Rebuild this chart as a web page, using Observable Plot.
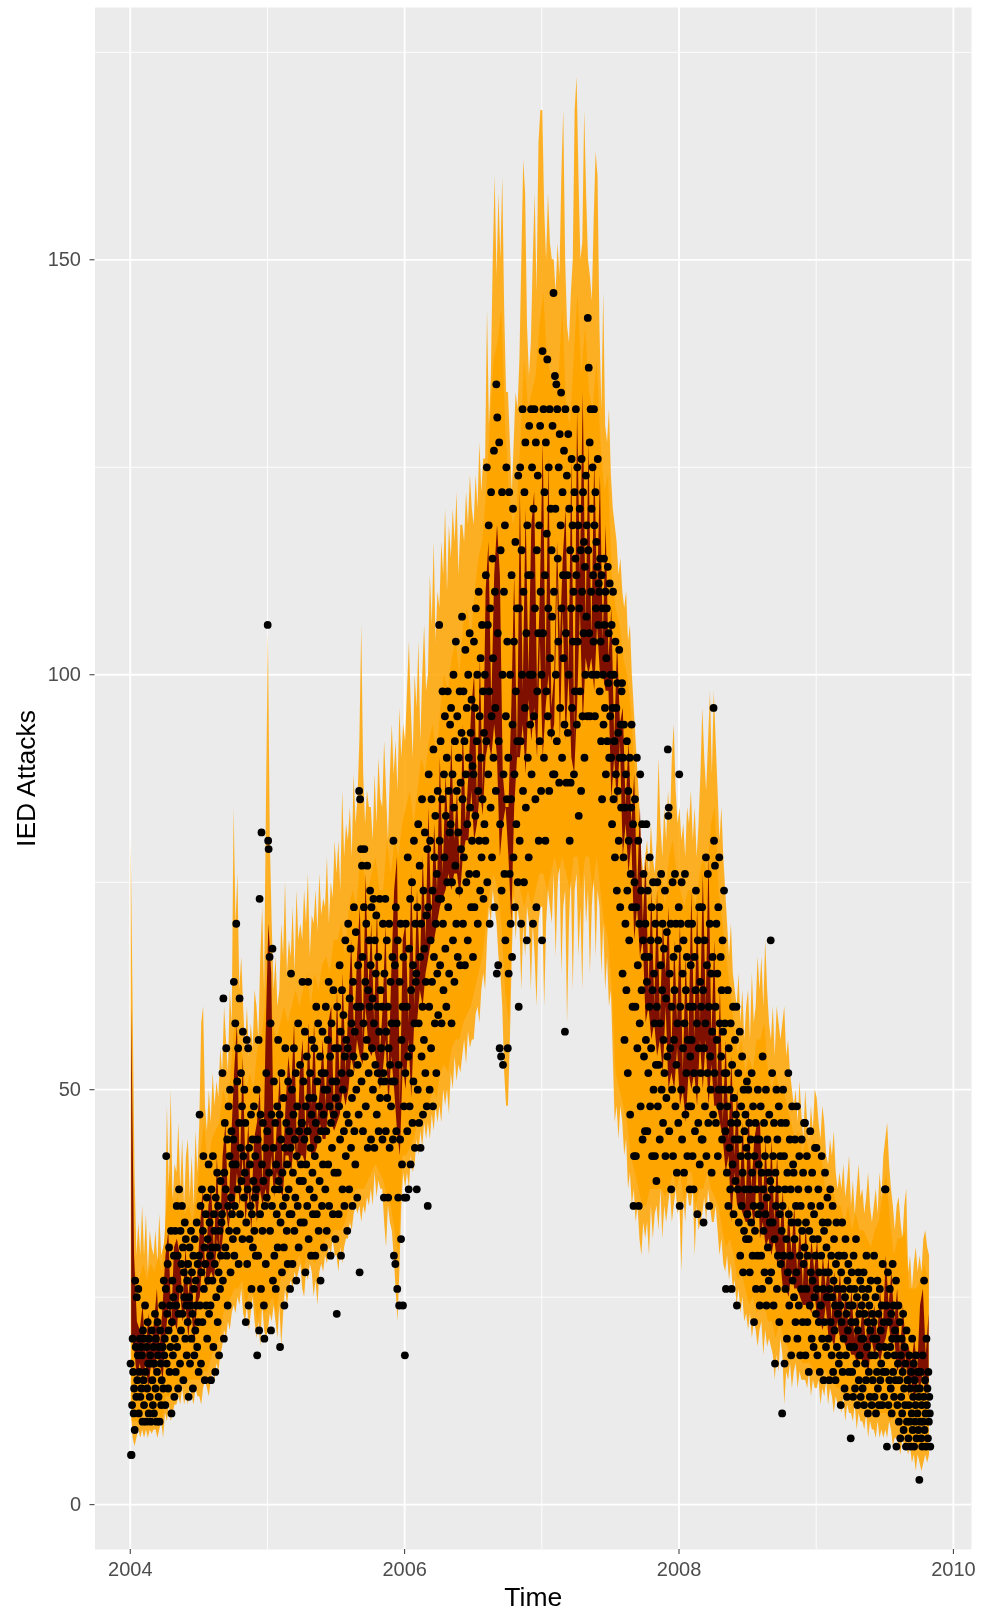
<!DOCTYPE html>
<html>
<head>
<meta charset="utf-8">
<script src="https://cdn.jsdelivr.net/npm/d3@7"></script>
<script src="https://cdn.jsdelivr.net/npm/@observablehq/plot@0.6"></script>
<style>html,body{margin:0;padding:0;background:#fff}svg{display:block;filter:blur(0.55px)}</style>
</head>
<body>
<div id="chart"></div>
<script>
const firstYear = 2004;
const xTicks = [2004, 2006, 2008, 2010];
const xMinor = [2005, 2007, 2009];
const yTicks = [0, 50, 100, 150];
const yMinor = [25, 75, 125, 175];

// Pale spike tips of the ribbon, six readings per month, Jan 2004 - Oct 2009
const outerHigh = [
[80,60,40,30,34,30],[36,30,35,28,33,31],[30,33,29,35,30,31],[32,48,38,50,36,41],[40,46,38,44,36,42],[44,37,42,36,45,40],[46,58,60,48,45,50],[46,52,48,51,49,55],[52,60,56,52,62,58],[84,70,76,62,66,60],[55,60,54,58,55,62],[60,56,66,72,62,85],
[105,80,70,62,66,60],[62,70,66,75,64,68],[66,72,64,74,68,70],[68,74,70,76,66,71],[70,74,69,76,71,73],[72,78,70,75,73,80],[76,80,74,86,78,82],[80,84,78,88,82,85],[92,106,88,82,86,84],[84,80,88,82,90,85],[84,92,86,80,88,94],[88,92,86,96,90,94],
[92,98,104,96,90,100],[96,104,92,100,106,98],[100,112,106,116,104,110],[108,116,112,120,110,118],[114,120,116,122,112,118],[118,116,122,118,124,120],[118,124,120,128,122,126],[126,144,130,136,150,160],[148,158,150,160,144,134],[134,128,122,128,134,132],[138,150,162,158,142,136],[140,150,158,146,164,168],
[168,156,150,158,152,150],[150,146,152,148,160,168],[150,142,140,146,150,168],[172,160,150,152,168,158],[150,148,145,155,163,160],[142,132,146,130,128,132],[124,120,118,116,112,114],[110,108,110,104,106,100],[96,92,88,84,78,76],[78,80,76,82,78,76],[80,90,82,78,84,80],[86,82,90,94,86,82],
[84,80,82,78,84,82],[86,80,84,78,82,88],[96,90,86,92,98,88],[98,92,86,80,84,78],[74,70,66,70,64,62],[60,64,58,62,56,60],[62,56,64,58,60,66],[62,66,60,68,62,58],[56,60,54,60,58,56],[58,60,54,56,52,50],[48,50,46,51,47,44],[50,46,44,48,45,50],
[49,46,44,48,46,42],[41,44,42,45,40,38],[40,38,41,37,39,42],[36,39,35,38,41,37],[38,35,37,40,36,34],[36,38,35,40,37,42],[44,46,41,38,36,33],[36,37,34,32,36,38],[28,30,26,29,31,28],[30,28,32,33,31,30]];

const outerLow = [
[12,8,7,8,9,8],[9,8,9,8,9,8.5],[9,9,8,9,10,8],[11,10,12,10,11,12],[12,13,12,14,12,13],[12,14,13,12,14,13],[13,12,14,15,14,13],[15,16,15,17,16,18],[19,21,20,22,21,23],[24,23,25,24,26,23],[22,24,21,23,25,22],[20,22,19,24,21,20],
[21,23,22,24,22,20],[24,19,23,26,24,26],[27,26,28,27,28,29],[26,25,28,27,29,28],[25,27,24,28,29,28],[30,29,31,30,32,30],[30,28,31,29,31,32],[32,34,33,35,36,35],[36,34,36,35,37,36],[38,36,40,37,39,38],[38,34,31,36,34,33],[30,26,22,28,36,40],
[38,40,38,42,40,41],[44,42,45,43,46,44],[46,44,47,45,48,46],[48,46,50,48,50,47],[52,50,54,51,53,52],[54,56,53,57,55,56],[56,59,60,58,62,64],[62,68,72,70,74,72],[70,66,64,60,52,48],[48,56,66,74,68,72],[70,62,70,66,72,70],[62,70,66,60,70,72],
[72,60,70,74,72,70],[76,66,74,78,64,72],[74,58,70,76,62,74],[76,66,72,62,76,70],[74,64,72,76,66,74],[72,64,70,62,66,60],[62,54,46,48,44,48],[46,42,44,38,40,36],[38,34,36,32,30,34],[32,34,30,36,32,35],[36,33,38,32,36,34],[36,38,34,36,38,35],
[36,28,37,34,38,36],[36,38,30,36,33,34],[35,37,34,38,36,34],[34,36,33,30,32,29],[28,30,27,29,26,27],[24,26,23,25,22,23],[21,23,20,22,21,19],[21,22,18,21,19,20],[19,18,15,18,16,20],[18,12,16,15,17,14],[16,17,14,16,15,15],[15,14,16,13,15,14],
[14,15,12,14,13,15],[12,14,13,11,13,12],[12,11,13,10,12,11],[11,10,12,9,11,10],[10,9,11,8,10,9],[9,8,10,8,9,8],[9,8,10,9,7,8],[8,7,6,8,7,7],[6,7,5,6,4,6],[5,4,5,6,5,6]];

// Solid body of the ribbon, three readings per month
const bodyHigh = [
[34,28,27],[29,27,29],[28,30,28],[35,40,36],[37,36,35],[36,34,37],[42,46,40],[44,45,46],[50,48,52],[58,56,54],[50,52,50],[55,56,60],
[70,58,56],[58,60,58],[60,62,60],[62,64,60],[64,62,65],[66,64,68],[68,70,66],[72,74,72],[78,76,74],[76,78,74],[74,80,76],[80,78,82],
[84,86,82],[86,90,88],[92,94,90],[96,100,98],[102,104,100],[106,108,104],[110,114,116],[122,130,138],[140,144,130],[122,118,120],[128,138,132],[134,136,142],
[146,138,136],[134,136,144],[132,130,138],[146,136,142],[134,132,138],[128,122,124],[112,108,106],[102,100,96],[88,82,74],[72,74,72],[74,76,72],[78,80,76],
[74,72,74],[74,72,76],[78,76,82],[84,74,70],[66,62,58],[54,56,52],[54,52,56],[56,58,52],[50,52,50],[50,48,46],[44,45,42],[44,42,44],
[42,42,38],[38,38,36],[36,34,36],[33,35,33],[33,32,31],[33,34,37],[40,34,30],[32,32,33],[26,26,26],[27,29,27]];

const bodyLow = [
[10,10,10],[11,11,11],[10,11,10],[13,13,14],[14,15,15],[15,15,15],[15,16,16],[18,19,20],[23,24,25],[26,26,27],[24,26,25],[22,24,23],
[24,25,23],[27,28,28],[29,29,30],[28,30,30],[29,30,31],[32,32,33],[33,33,34],[36,37,38],[38,38,39],[40,41,40],[39,37,36],[33,30,42],
[42,43,44],[46,47,48],[48,50,49],[52,53,52],[55,56,56],[58,59,60],[62,64,66],[70,74,76],[74,70,62],[58,72,76],[74,72,74],[72,74,76],
[76,74,76],[78,76,78],[76,74,78],[78,74,78],[78,74,78],[74,70,68],[62,52,50],[48,46,42],[40,38,36],[36,38,38],[38,38,37],[38,40,38],
[40,36,40],[40,36,38],[38,40,38],[37,36,33],[31,32,30],[27,28,26],[24,25,23],[24,24,22],[22,20,22],[20,19,18],[18,18,17],[17,17,16],
[16,16,16],[15,15,14],[14,14,13],[13,13,12],[12,12,11],[11,11,11],[11,10,11],[10,9,9],[8,8,7],[7,7,7]];

// Inner ribbon, four readings per month
const innerHigh = [
[60,30,22,21],[24,18,23,19],[22,26,19,24],[30,33,22,31],[32,30,24,31],[25,29,22,27],[33,38,26,36],[38,30,42,31],[42,46,34,44],[52,58,40,54],[40,46,35,44],[46,50,38,56],
[70,64,40,46],[52,40,48,54],[50,58,42,52],[56,44,58,48],[58,46,50,56],[48,58,60,46],[62,50,64,52],[60,68,56,66],[72,56,76,62],[70,58,72,54],[60,70,52,64],[74,78,48,68],
[70,58,76,60],[74,64,78,68],[84,70,82,74],[90,76,88,80],[92,80,86,76],[94,82,88,96],[100,84,102,86],[110,116,96,112],[118,112,88,84],[84,96,112,90],[122,98,120,100],[118,122,98,110],
[128,100,126,96],[100,116,104,114],[120,100,126,92],[132,112,134,106],[128,104,126,110],[124,104,118,102],[108,92,104,94],[96,84,92,82],[88,74,84,70],[78,62,74,60],[74,58,70,64],[72,54,68,58],
[70,52,66,56],[74,56,72,58],[76,60,78,56],[68,50,62,46],[56,44,54,42],[50,38,46,36],[48,38,44,46],[46,36,44,34],[44,34,42,32],[38,28,36,30],[36,28,34,26],[34,26,32,28],
[32,24,30,26],[30,22,28,24],[28,22,26,21],[26,20,25,20],[25,19,24,21],[24,20,26,21],[30,24,28,22],[26,18,24,19],[19,17,20,16],[24,26,18,23]];

const innerLow = [
[20,19,15,17],[15,17,14,17],[16,18,17,15],[20,24,21,22],[21,26,22,24],[20,24,19,24],[25,30,26,27],[28,27,32,29],[32,36,33,36],[35,40,36,42],[34,38,33,38],[34,38,36,38],
[36,42,37,40],[38,37,42,42],[40,44,41,42],[42,41,46,42],[42,43,46,44],[44,48,46,45],[46,47,50,48],[50,54,52,56],[54,53,60,55],[54,55,53,50],[52,56,48,54],[50,45,42,53],
[50,56,49,58],[58,62,60,64],[66,68,68,70],[72,73,74,76],[74,76,76,73],[78,80,80,86],[80,82,86,83],[90,92,90,94],[90,78,82,84],[78,70,84,90],[90,94,88,97],[92,96,90,104],
[90,96,100,92],[94,112,92,108],[92,100,90,88],[96,108,94,102],[100,102,98,106],[100,100,98,98],[85,90,84,92],[78,82,76,80],[68,72,66,68],[58,60,56,58],[54,56,52,60],[50,52,50,55],
[48,50,46,52],[50,52,48,56],[50,56,48,53],[48,48,46,44],[40,42,34,40],[36,36,35,34],[34,36,33,42],[32,34,31,32],[30,32,29,30],[26,26,25,28],[26,26,25,24],[24,24,23,26],
[22,22,21,24],[20,20,19,22],[20,20,19,19],[18,18,17,18],[17,17,16,20],[18,19,17,19],[20,22,19,20],[16,17,15,18],[13,15,12,15],[14,16,13,15]];

// Attack counts read month by month, in time order inside each month
const attacks = [
[17,6,6,12,20,16,11,14,9,27,19,13,25,15,18,26,11,16,20,13,19,14],
[18,10,21,15,12,20,24,16,10,19,14,22,17,11,20,13,18,10,17,21,15,12],
[19,11,17,23,14,20,10,16,22,18,13,19,10,21,17,12,15,24,19,14,27,18],
[20,12,26,42,17,23,29,14,21,31,16,24,19,33,11,22,27,18,25,30,13,20,33,16],
[24,36,19,30,14,23,38,26,17,33,21,29,36,23,31,15,28,25,34,20,32,24,18,27],
[22,29,13,25,31,17,24,33,20,28,23,14,30,26,18,32,21,27,24,34,19,29,22,16],
[30,47,24,36,17,28,38,22,33,42,26,31,15,29,35,24,37,20,32,27,41,23,34,30],
[24,15,38,31,27,42,19,35,33,29,16,37,25,31,40,22,36,28,18,33,26,39,30,34],
[35,52,27,61,20,40,46,31,38,55,30,44,24,36,48,33,42,50,28,37,45,35,41,32],
[44,63,30,36,58,41,70,33,51,38,55,29,46,61,35,43,52,39,48,32,57,42,37,50],
[40,46,22,34,56,29,38,55,24,43,32,41,36,47,26,35,44,31,39,48,33,37,42,30],
[38,50,18,44,30,56,21,73,35,47,26,81,41,33,46,39,24,20,36,43,29,52,37,45],
[106,80,79,40,66,33,58,21,47,36,67,27,43,51,30,38,46,26,41,35,48,31,56,39],
[38,47,19,34,44,52,28,40,36,49,31,24,43,55,37,46,33,41,29,51,38,45,35,26],
[43,64,35,50,29,40,47,55,33,44,37,52,27,42,48,36,58,31,45,39,53,34,41,46],
[46,63,39,51,34,44,57,28,48,41,54,36,45,63,32,49,38,52,43,30,47,56,40,35],
[49,37,55,42,30,46,60,35,51,44,58,33,48,39,54,27,45,52,36,57,41,47,31,50],
[52,38,60,45,33,50,56,41,63,36,48,54,30,46,58,43,51,35,62,47,40,55,32,49],
[51,23,60,40,55,35,48,65,44,57,30,52,62,38,50,59,45,36,54,68,42,56,47,33],
[55,70,46,38,61,52,67,43,58,49,36,63,54,72,45,57,41,69,50,60,37,53,65,47],
[86,28,85,60,79,51,77,66,45,58,72,79,54,63,48,70,56,77,43,62,52,68,60,74],
[65,44,72,55,61,50,73,58,43,68,53,64,71,47,60,52,66,45,57,73,49,62,55,51],
[60,44,70,52,37,64,51,73,45,57,68,49,60,37,55,70,43,53,63,48,58,51,66,44],
[80,30,51,65,29,72,45,58,26,68,37,53,24,63,44,70,32,56,41,60,24,66,48,37],
[18,52,70,37,60,45,78,54,38,67,48,73,41,62,55,75,46,65,51,80,58,43,70,63],
[64,38,72,50,82,58,46,77,66,43,70,54,85,60,47,74,56,67,81,52,63,71,48,79],
[36,72,88,60,50,80,68,55,85,63,74,48,91,66,78,58,83,70,52,76,64,86,59,73],
[106,80,65,92,73,58,85,98,70,62,88,78,95,67,83,60,90,75,98,72,86,64,81,94],
[82,96,58,75,88,68,100,84,63,92,77,104,70,86,95,66,81,90,74,98,65,87,79,93],
[107,85,70,98,78,92,65,103,88,75,96,82,68,100,90,76,105,84,93,72,97,80,89,66],
[88,104,72,96,83,108,76,92,100,70,86,110,80,95,74,102,90,78,106,85,98,73,93,82],
[100,80,112,92,125,75,106,88,118,98,70,108,84,122,95,78,114,102,90,127,72,110,96,86],
[135,64,131,105,65,92,128,55,82,115,54,74,122,100,53,88,110,76,118,68,95,125,85,104],
[55,90,64,122,76,100,70,85,112,66,94,120,78,104,88,72,116,98,82,108,92,75,124,60],
[108,80,125,92,70,115,100,132,86,110,75,122,96,128,84,105,68,118,90,112,78,130,100,94],
[112,132,88,125,100,70,120,95,132,108,85,128,72,115,98,124,105,80,118,92,130,110,86,100],
[68,139,105,132,90,122,112,80,128,98,117,138,95,108,125,86,132,102,120,93,115,107,130,88],
[146,110,88,136,120,100,135,92,132,114,104,125,87,129,96,118,134,108,90,122,112,102,127,94],
[57,132,105,87,124,112,93,129,100,120,80,115,87,108,126,96,118,104,110,88,122,98,114,132],
[112,94,125,104,118,83,108,120,98,115,86,126,110,95,122,105,116,90,113,100,124,107,118,95],
[143,115,137,105,128,95,132,110,120,100,125,112,104,132,118,95,122,108,116,100,113,126,106,111],
[110,98,114,104,92,112,85,108,100,94,114,106,96,110,88,102,108,92,113,99,105,90,111,95],
[100,90,106,82,96,110,85,100,92,78,104,88,96,74,99,86,93,80,103,90,72,94,84,98],
[99,64,90,78,94,56,84,70,88,62,92,74,52,86,80,68,90,47,76,84,94,72,60,82],
[36,42,75,85,60,42,72,90,55,65,80,36,70,58,88,48,74,62,82,44,68,76,54,66],
[45,70,56,82,63,45,74,52,66,60,78,48,68,55,72,42,62,75,50,64,58,42,70,53],
[39,60,75,48,68,53,72,44,58,65,76,50,62,70,46,56,67,52,74,42,61,49,69,54],
[91,83,84,45,64,55,70,38,60,50,75,42,66,56,62,76,48,70,53,40,58,67,46,72],
[88,36,60,70,50,75,44,64,55,68,40,58,76,47,62,52,66,42,56,70,48,60,38,54],
[65,48,56,70,42,60,38,52,66,45,62,74,50,58,35,68,46,55,72,41,63,52,60,44],
[72,44,62,34,55,68,48,58,78,42,65,52,76,46,60,36,70,54,50,64,40,57,66,47],
[96,80,52,77,60,46,70,56,64,42,72,50,78,58,48,66,54,62,44,68,57,50,74,52],
[58,45,26,52,40,48,62,36,55,43,50,38,58,46,26,53,41,60,35,49,44,56,39,47],
[60,24,46,38,52,34,44,57,30,42,48,36,54,40,28,50,33,45,38,47,32,43,51,35],
[42,50,32,46,28,38,44,34,52,40,30,48,36,22,42,33,46,26,38,44,30,50,35,41],
[44,24,36,48,30,40,26,54,38,33,46,28,42,35,50,24,37,44,31,40,27,47,34,39],
[68,28,38,52,34,42,24,46,32,17,40,36,50,26,44,30,38,48,22,35,42,29,46,33],
[11,36,50,30,42,17,38,26,46,32,20,40,28,52,35,24,44,30,38,18,34,48,27,41],
[40,25,32,44,22,36,28,48,20,34,38,24,42,30,18,36,26,44,33,22,40,29,46,31],
[46,18,34,26,42,22,30,38,16,33,24,45,28,36,20,40,27,32,19,35,25,43,30,23],
[43,26,18,32,38,22,28,16,36,24,30,42,20,34,26,15,33,22,40,28,19,31,25,37],
[34,20,28,15,26,38,22,30,18,25,36,16,27,32,21,24,15,29,34,19,26,23,30,17],
[30,18,24,12,28,22,34,16,26,20,30,14,25,32,18,23,13,27,21,29,16,24,19,26],
[8,22,28,16,24,13,30,19,26,14,22,32,17,25,12,21,28,15,23,18,27,13,20,24],
[26,14,20,28,12,23,17,25,15,30,19,22,11,26,16,24,13,21,27,18,12,23,15,20],
[22,30,13,18,25,11,20,16,27,14,23,12,19,26,15,21,17,24,12,29,16,22,13,19],
[38,38,16,24,7,18,28,12,22,15,26,19,14,23,11,20,29,16,24,13,18,21,15,27],
[7,20,12,17,24,10,15,22,8,18,13,20,11,16,23,9,14,19,12,17,7,21,10,15],
[15,8,12,18,10,14,7,16,11,20,9,13,17,7,15,10,12,18,8,14,11,16,9,13],
[3,14,10,16,8,12,7,18,10,13,27,9,15,11,7,20,12,14,8,16,10,13,11,7]];

const timeOf = (month, i, n) => firstYear + (month + (i + 0.5) / n) / 12;
const bandRows = (hi, lo) => hi.flatMap((vals, m) =>
  vals.map((h, i) => ({t: timeOf(m, i, vals.length), hi: h, lo: lo[m][i]})));
const outerRows = bandRows(outerHigh, outerLow);
const bodyRows = bandRows(bodyHigh, bodyLow);
const innerRows = bandRows(innerHigh, innerLow);
const dotRows = attacks.flatMap((vals, m) =>
  vals.map((v, i) => ({t: timeOf(m, i, vals.length), v})));

const grid = "#FFFFFF";
const plot = Plot.plot({
  width: 984,
  height: 1613,
  marginLeft: 94.5,
  marginRight: 13,
  marginTop: 7,
  marginBottom: 64,
  style: {fontFamily: "'Liberation Sans', Helvetica, Arial, sans-serif", background: "#fff", overflow: "visible"},
  x: {domain: [2003.743, 2010.132]},
  y: {domain: [-5.4, 180.4]},
  marks: [
    Plot.frame({fill: "#EBEBEB", stroke: null}),
    Plot.ruleY(yMinor, {stroke: grid, strokeWidth: 0.9}),
    Plot.ruleX(xMinor, {stroke: grid, strokeWidth: 0.9}),
    Plot.ruleY(yTicks, {stroke: grid, strokeWidth: 1.8}),
    Plot.ruleX(xTicks, {stroke: grid, strokeWidth: 1.8}),
    Plot.areaY(outerRows, {x: "t", y1: "lo", y2: "hi", fill: "#FFA500", fillOpacity: 0.85}),
    Plot.areaY(bodyRows, {x: "t", y1: "lo", y2: "hi", fill: "#FFA500"}),
    Plot.areaY(innerRows, {x: "t", y1: "lo", y2: "hi", fill: "#7F1000"}),
    Plot.dot(dotRows, {x: "t", y: "v", r: 3.9, fill: "#000", stroke: null}),
    Plot.axisX({ticks: xTicks, tickFormat: "d", label: null, tickSize: 5, tickPadding: 7, fontSize: 20, stroke: "#333", fill: "#4D4D4D"}),
    Plot.axisY({ticks: yTicks, label: null, tickSize: 5, tickPadding: 9, fontSize: 20, stroke: "#333", fill: "#4D4D4D"}),
    Plot.text(["Time"], {frameAnchor: "bottom", dy: 56, fontSize: 26.5, fill: "#000"}),
    Plot.text(["IED Attacks"], {frameAnchor: "left", dx: -68, rotate: -90, textAnchor: "middle", fontSize: 26.5, fill: "#000"})
  ]
});
document.getElementById("chart").appendChild(plot);
</script>
</body>
</html>
